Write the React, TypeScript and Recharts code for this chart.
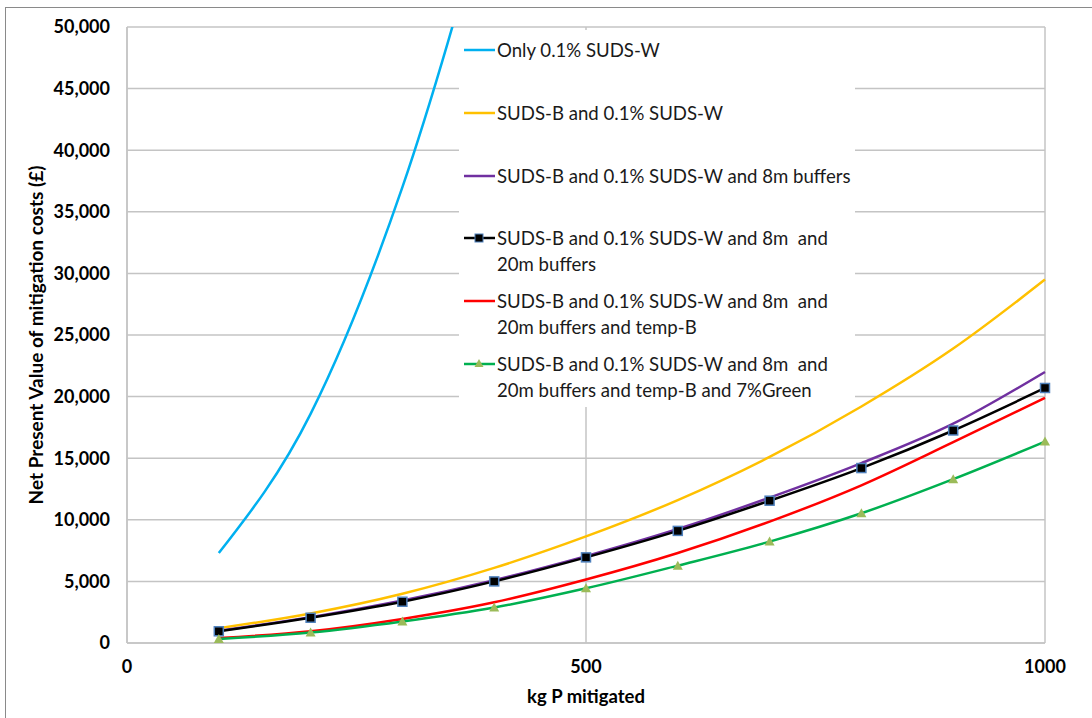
import React from 'react';
import { LineChart, Line, XAxis, YAxis, CartesianGrid } from 'recharts';

// kg P mitigated
const kgP = [100, 200, 300, 400, 500, 600, 700, 800, 900, 1000];

// Net present value of mitigation costs (£)
const onlySudsW = [7300, 18600, 37000, 62000];
const sudsB = [1200, 2400, 4000, 6100, 8650, 11600, 15100, 19200, 23900, 29500];
const buffers8 = [1000, 2100, 3450, 5100, 7050, 9250, 11800, 14600, 17800, 22000];
const buffers20 = [950, 2050, 3350, 5000, 6950, 9100, 11550, 14200, 17250, 20700];
const tempB = [400, 950, 1950, 3300, 5150, 7300, 9850, 12800, 16300, 19900];
const green7 = [330, 850, 1750, 2880, 4440, 6280, 8230, 10530, 13300, 16350];

const xTicks = [0, 500, 1000];
const yTicks = [0, 5000, 10000, 15000, 20000, 25000, 30000, 35000, 40000, 45000, 50000];

const data = kgP.map((x, i) => ({
    x,
    s1: onlySudsW[i] ?? null,
    s2: sudsB[i],
    s3: buffers8[i],
    s4: buffers20[i],
    s5: tempB[i],
    s6: green7[i],
}));

const series = [
    { key: 's1', color: '#00B0F0', marker: 'none', label: ['Only 0.1% SUDS-W'] },
    { key: 's2', color: '#FFC000', marker: 'none', label: ['SUDS-B and 0.1% SUDS-W'] },
    { key: 's3', color: '#7030A0', marker: 'none', label: ['SUDS-B and 0.1% SUDS-W and 8m buffers'] },
    { key: 's4', color: '#000000', marker: 'square', label: ['SUDS-B and 0.1% SUDS-W and 8m  and', '20m buffers'] },
    { key: 's5', color: '#FF0000', marker: 'none', label: ['SUDS-B and 0.1% SUDS-W and 8m  and', '20m buffers and temp-B'] },
    { key: 's6', color: '#00B050', marker: 'triangle', label: ['SUDS-B and 0.1% SUDS-W and 8m  and', '20m buffers and temp-B and 7%Green'] },
];

const FONT = 'Lato, "Open Sans", sans-serif';
const GRID = '#C4C4C4';

const SquareDot = (props: any) => {
    const { cx, cy, index } = props;
    if (cx == null || cy == null) return <g key={`sq-${index}`} />;
    return <rect key={`sq-${index}`} x={cx - 4.5} y={cy - 4.5} width={9} height={9} fill="#000" stroke="#4F81BD" strokeWidth={1.5} />;
};

const TriangleDot = (props: any) => {
    const { cx, cy, index } = props;
    if (cx == null || cy == null) return <g key={`tr-${index}`} />;
    return <path key={`tr-${index}`} d={`M${cx},${cy - 5} L${cx + 5},${cy + 4} L${cx - 5},${cy + 4} Z`} fill="#9BBB59" />;
};

const fmt = (v: number) => v.toLocaleString('en-US');

const YTitle = (props: any) => {
    const { viewBox } = props;
    const x = viewBox.x - 2;
    const y = viewBox.y + viewBox.height / 2;
    return (
        <text x={x} y={y} transform={`rotate(-90, ${x}, ${y})`} textAnchor="middle" dominantBaseline="central"
            fill="#000" fontSize={19} fontWeight={700} fontFamily={FONT}>
            Net Present Value of mitigation costs (£)
        </text>
    );
};

const LegendBox = () => (
    <div style={{
        position: 'absolute', left: 459, top: 30, width: 396, height: 377,
        background: '#fff', fontFamily: FONT, fontSize: 18.6, color: '#1a1a1a',
    }}>
        {series.map((s, i) => (
            <div key={s.key} style={{ position: 'absolute', left: 0, top: 7 + i * 62.8, width: 396 }}>
                <svg width={36} height={26} style={{ position: 'absolute', left: 4, top: 0 }}>
                    <line x1={1} y1={13} x2={32} y2={13} stroke={s.color} strokeWidth={2.5} />
                    {s.marker === 'square' && <rect x={12} y={9} width={8} height={8} fill="#000" stroke="#4F81BD" strokeWidth={1} />}
                    {s.marker === 'triangle' && <path d="M16,8 L20.5,16 L11.5,16 Z" fill="#9BBB59" />}
                </svg>
                {s.label.map((t, j) => (
                    <div key={j} style={{ position: 'absolute', left: 38, top: j * 26, lineHeight: '26px', whiteSpace: 'pre' }}>{t}</div>
                ))}
            </div>
        ))}
    </div>
);

export default function App() {
    return (
        <div style={{ position: 'absolute', left: 0, top: 0, width: 1092, height: 718, background: '#fff', overflow: 'hidden' }}>
            <div style={{ position: 'absolute', left: 5, top: 7, width: 1200, height: 800, borderLeft: '1.5px solid #8a8a8a', borderTop: '1.5px solid #8a8a8a' }} />
            <LineChart width={1092} height={718} data={data} margin={{ top: 27, right: 47, bottom: 15, left: 37 }}>
                <CartesianGrid stroke={GRID} strokeWidth={1.5} />
                <XAxis
                    dataKey="x"
                    type="number"
                    domain={[0, 1000]}
                    ticks={xTicks}
                    tickLine={false}
                    tickSize={0}
                    tickMargin={17}
                    height={60}
                    axisLine={{ stroke: GRID, strokeWidth: 1.5 }}
                    tick={{ fill: '#000', fontSize: 18, fontWeight: 700, fontFamily: FONT }}
                    label={{ value: 'kg P mitigated', position: 'insideBottom', offset: 0, fill: '#000', fontSize: 18.5, fontWeight: 700, fontFamily: FONT }}
                />
                <YAxis
                    type="number"
                    domain={[0, 50000]}
                    ticks={yTicks}
                    allowDataOverflow
                    tickFormatter={fmt}
                    tickLine={false}
                    tickSize={0}
                    tickMargin={17}
                    width={90}
                    axisLine={{ stroke: GRID, strokeWidth: 1.5 }}
                    tick={{ fill: '#000', fontSize: 18, fontWeight: 700, fontFamily: FONT }}
                    label={<YTitle />}
                />
                {series.map(s => (
                    <Line
                        key={s.key}
                        type="monotone"
                        dataKey={s.key}
                        stroke={s.color}
                        strokeWidth={2.5}
                        dot={s.marker === 'square' ? SquareDot : s.marker === 'triangle' ? TriangleDot : false}
                        activeDot={false}
                        isAnimationActive={false}
                        connectNulls={false}
                    />
                ))}
            </LineChart>
            <LegendBox />
        </div>
    );
}
